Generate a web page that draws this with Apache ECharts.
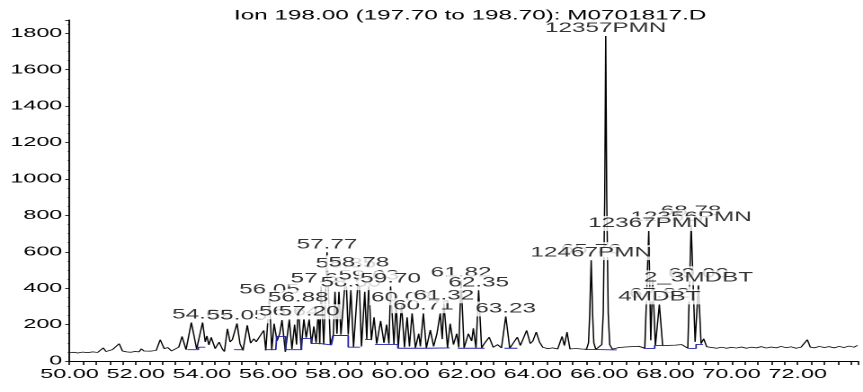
<!DOCTYPE html>
<html><head><meta charset="utf-8">
<script src="https://cdn.jsdelivr.net/npm/echarts@6/dist/echarts.min.js"></script>
<style>
html,body{margin:0;padding:0;background:#fff;overflow:hidden;}
#wrap{width:863px;height:392px;overflow:hidden;position:relative;}
#chart{width:480px;height:392px;transform:scaleX(1.797917);transform-origin:0 0;}
</style></head><body><div id="wrap"><div id="chart"></div></div>
<script>
// ---------- data ----------
const titleText = 'Ion 198.00 (197.70 to 198.70): M0701817.D';

// Chromatogram trace: retention time (min) and abundance
const retentionTime = [
50.00,50.12,50.25,50.40,50.55,50.70,50.85,50.95,51.02,51.10,51.20,51.30,51.38,51.50,51.60,51.72,51.85,51.98,52.10,52.17,
52.25,52.35,52.45,52.55,52.62,52.74,52.86,52.97,53.08,53.17,53.30,53.40,53.52,53.68,53.84,54.02,54.10,54.15,54.21,54.28,
54.40,54.52,54.62,54.68,54.77,54.85,54.92,55.06,55.15,55.24,55.37,55.47,55.57,55.64,55.72,55.80,55.87,55.93,56.04,56.11,
56.18,56.27,56.35,56.42,56.52,56.64,56.72,56.80,56.86,56.91,57.00,57.08,57.15,57.24,57.31,57.38,57.45,57.52,57.56,57.60,
57.68,57.78,57.88,57.97,58.02,58.08,58.14,58.20,58.35,58.42,58.50,58.58,58.74,58.82,58.92,58.98,59.04,59.12,59.20,59.28,
59.40,59.50,59.58,59.65,59.70,59.80,59.87,59.93,60.03,60.12,60.20,60.27,60.35,60.45,60.55,60.60,60.69,60.78,60.90,61.00,
61.10,61.20,61.26,61.31,61.42,61.50,61.60,61.70,61.76,61.83,61.92,62.05,62.15,62.20,62.28,62.36,62.45,62.55,62.68,62.80,
62.93,63.05,63.18,63.30,63.40,63.53,63.62,63.70,63.81,63.92,64.00,64.10,64.20,64.30,64.45,64.60,64.75,64.88,64.95,65.03,
65.12,65.30,65.45,65.62,65.68,65.715,65.76,65.805,65.84,65.90,66.00,66.08,66.125,66.17,66.20,66.23,66.275,66.32,66.40,66.50,
66.60,66.70,66.80,66.90,67.00,67.10,67.20,67.30,67.38,67.50,67.56,67.62,67.70,67.82,67.92,68.00,68.10,68.20,68.30,68.40,
68.50,68.60,68.68,68.78,68.90,69.00,69.08,69.16,69.25,69.40,69.55,69.70,69.85,70.00,70.15,70.30,70.45,70.60,70.75,70.90,
71.05,71.20,71.35,71.50,71.65,71.80,71.95,72.10,72.20,72.29,72.38,72.50,72.65,72.80,72.95,73.10,73.25,73.40,73.55,73.70,73.81
];
const abundance = [
45,48,44,49,46,50,47,52,72,52,57,63,54,95,55,50,48,52,50,67,
55,63,54,60,58,117,68,74,55,48,76,135,62,212,66,212,105,138,88,130,
68,104,65,52,177,105,118,207,95,58,196,98,122,105,128,118,168,58,350,60,
205,110,150,225,50,229,66,200,90,306,64,230,128,229,95,190,100,280,92,410,
90,598,90,145,380,150,380,145,493,145,389,76,499,80,380,120,427,115,240,95,
220,100,200,95,410,92,317,72,306,75,240,80,262,72,150,80,262,72,170,80,
150,262,120,317,72,205,90,150,75,444,72,150,110,180,72,389,72,100,131,75,
90,72,245,70,80,131,85,95,168,96,110,159,104,75,68,72,66,135,85,159,
66,69,66,65,100,250,554,250,100,64,63,90,264,900,1785,900,264,90,65,68,
74,69,77,72,79,72,81,74,70,714,113,450,84,311,84,80,86,78,87,80,
90,82,70,747,105,416,95,122,78,74,70,76,70,75,71,77,70,76,72,79,
71,77,72,80,73,78,70,76,80,117,76,72,80,74,79,72,80,74,82,76,86
];

// Integration baselines (blue): groups of [time, abundance] vertices
const baselineGroups = [
  [[53.56,62],[53.89,62],[53.89,76],[54.10,76]],
  [[54.97,62],[55.27,62]],
  [[55.90,62],[56.23,62],[56.26,135],[56.53,135],[56.53,62],[57.01,62],[57.01,124],[57.31,124],[57.31,96],[57.58,96],[57.58,88],[57.91,88],[57.97,140],[58.42,140],[58.42,76],[58.78,76]],
  [[58.93,118],[59.11,118]],
  [[59.23,91],[59.92,91],[59.92,70],[60.77,70],[60.77,72],[61.49,72]],
  [[61.73,70],[62.54,70]],
  [[63.14,70],[63.53,70]],
  [[65.57,63],[65.99,63],[65.99,61],[66.53,61]],
  [[67.34,69],[67.68,69],[67.68,85],[67.94,85]],
  [[68.69,69],[68.93,69],[68.93,91],[69.14,91]]
];

// Peak labels (drawing order matters: later ones sit on top)
const labelTime = [54.02,55.06,56.64,56.04,56.91,57.24,57.60,58.50,59.04,59.70,58.35,58.74,57.78,60.03,60.69,61.31,61.83,62.36,63.18,
                   65.76,65.76,66.20,68.78,68.78,67.50,69.00,69.00,67.82,67.82];
const labelText = ['54.02','55.05','56.64','56.05','56.88','57.20','57.60','58.50','59.03','59.70','58.35','58.78','57.77','60.03','60.71','61.32','61.82','62.35','63.23',
                   '65.76','12467PMN','12357PMN','68.78','12356PMN','12367PMN','69.00','2_3MDBT','67.82','4MDBT'];

// ---------- style ----------
const labelLift = {19:3, 22:6, 25:4, 27:3};   // extra upward shift (px) of stacked time tags
const FONT = '"Liberation Sans", Arial, Helvetica, sans-serif';

const trace = retentionTime.map((t,i)=>[t, abundance[i]]);
function heightAt(t){
  let best=0, bd=1e9;
  retentionTime.forEach((x,i)=>{ const d=Math.abs(x-t); if(d<bd){bd=d;best=i;} });
  return abundance[best];
}
const baseData = [];
baselineGroups.forEach((g,gi)=>{ if(gi) baseData.push([g[0][0], '-']); g.forEach(p=>baseData.push(p)); });

const labelData = labelTime.map((t,i)=>({
  value:[t, heightAt(t)],
  label:{ formatter: labelText[i], offset:[0, -(labelLift[i]||0)] }
}));

const chart = echarts.init(document.getElementById('chart'), null, {renderer:'canvas', devicePixelRatio:2});
chart.setOption({
  animation:false,
  backgroundColor:'#ffffff',
  title:{ text:titleText, left:256.5, top:4, textAlign:'center',
    textStyle:{fontFamily:FONT, fontSize:13.5, fontWeight:'normal', color:'#000'} },
  grid:{ left:38.66, right:0, top:20, bottom:31, containLabel:false },
  xAxis:{ type:'value', min:50, max:73.81, interval:2,
    axisLine:{ lineStyle:{color:'#000', width:0.9} },
    axisTick:{ length:4, lineStyle:{color:'#000', width:0.8} },
    minorTick:{ show:true, splitNumber:5, length:4, lineStyle:{color:'#000', width:0.8} },
    splitLine:{show:false}, minorSplitLine:{show:false},
    axisLabel:{ fontFamily:FONT, fontSize:13, color:'#000', margin:7,
      formatter:v=> (Math.abs(v/2-Math.round(v/2))<1e-6 ? v.toFixed(2) : '') } },
  yAxis:{ type:'value', min:0, max:1873, interval:200,
    axisLine:{ show:true, lineStyle:{color:'#000', width:0.9} },
    axisTick:{ show:true, length:2.4, lineStyle:{color:'#000', width:0.8} },
    minorTick:{ show:true, splitNumber:4, length:1, lineStyle:{color:'#000', width:0.6} },
    splitLine:{show:false}, minorSplitLine:{show:false},
    axisLabel:{ fontFamily:FONT, fontSize:13, color:'#000', margin:4,
      formatter:v=> (v%200===0 ? String(v) : '') } },
  series:[
    { type:'line', data:trace, symbol:'none', silent:true, z:2,
      lineStyle:{color:'#000', width:0.75} },
    { type:'line', data:baseData, symbol:'none', silent:true, z:3, connectNulls:false,
      lineStyle:{color:'#2424a8', width:0.9} },
    { type:'scatter', data:labelData, symbol:'circle', symbolSize:0, silent:true, z:5,
      emphasis:{disabled:true},
      label:{ show:true, position:'top', distance:0, fontFamily:FONT, fontSize:13.5,
        color:'#000', backgroundColor:'#ffffff', padding:[1,1,1,1], lineHeight:13 } }
  ]
});
</script></body></html>
